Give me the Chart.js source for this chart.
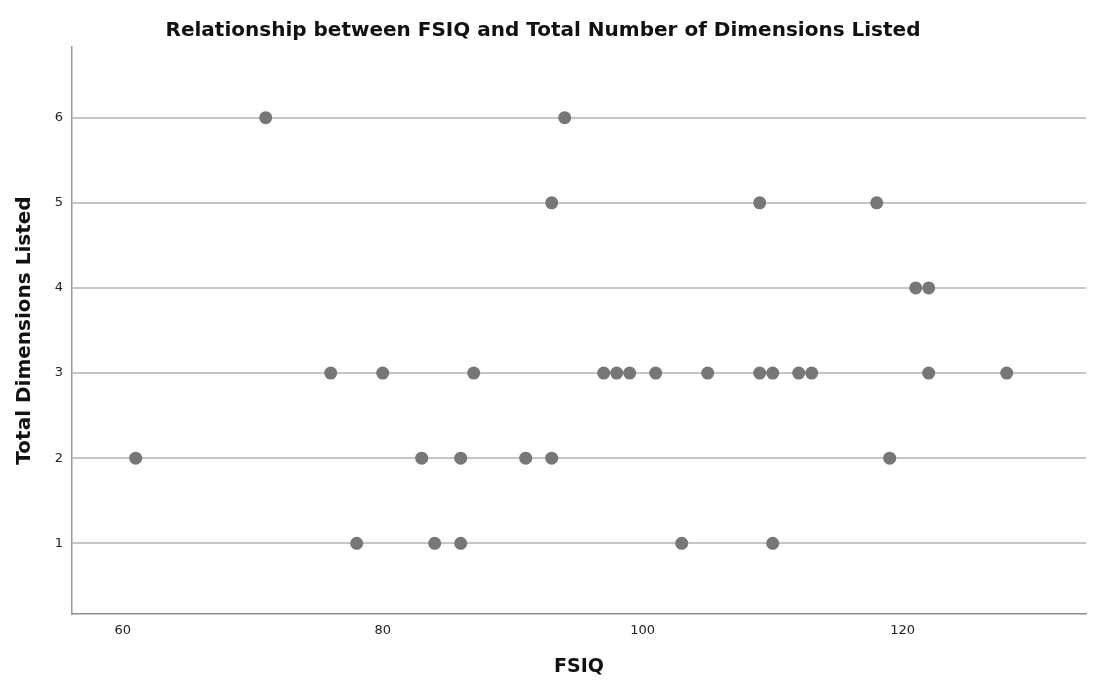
<!DOCTYPE html>
<html>
<head>
<meta charset="utf-8">
<script src="https://cdn.jsdelivr.net/npm/chart.js@4/dist/chart.umd.min.js"></script>
<style>
  html, body { margin: 0; padding: 0; background: #ffffff; }
  #wrap { width: 1094px; height: 687px; }
</style>
</head>
<body>
<div id="wrap"><canvas id="c" width="1094" height="687"></canvas></div>
<script>
// FSIQ scores grouped by the number of dimensions listed
const fsiqDim6 = [71, 94];
const fsiqDim5 = [93, 109, 118];
const fsiqDim4 = [121, 122];
const fsiqDim3 = [76, 80, 87, 97, 98, 99, 101, 105, 109, 110, 112, 113, 122, 128];
const fsiqDim2 = [61, 83, 86, 91, 93, 119];
const fsiqDim1 = [78, 84, 86, 103, 110];

const dimensionGroups = [
  [6, fsiqDim6], [5, fsiqDim5], [4, fsiqDim4],
  [3, fsiqDim3], [2, fsiqDim2], [1, fsiqDim1]
];

const xTickValues = [60, 80, 100, 120];
const yTickValues = [1, 2, 3, 4, 5, 6];

const points = [];
dimensionGroups.forEach(([dims, scores]) => {
  scores.forEach(s => points.push({ x: s, y: dims }));
});

const FONT = "'DejaVu Sans', 'Liberation Sans', sans-serif";

new Chart(document.getElementById('c'), {
  type: 'scatter',
  data: {
    datasets: [{
      data: points,
      backgroundColor: '#777777',
      borderColor: '#777777',
      borderWidth: 0,
      pointRadius: 6.5,
      pointHoverRadius: 6.5
    }]
  },
  options: {
    responsive: false,
    animation: false,
    layout: { padding: { left: 0, right: 8, top: 0, bottom: 0 } },
    plugins: {
      legend: { display: false },
      tooltip: { enabled: false },
      title: {
        display: true,
        text: 'Relationship between FSIQ and Total Number of Dimensions Listed',
        color: '#111111',
        font: { family: FONT, size: 20, weight: 'bold', lineHeight: 1.2 },
        padding: { top: 19, bottom: 4 }
      }
    },
    scales: {
      x: {
        type: 'linear',
        min: 56.1,
        max: 134.1,
        afterBuildTicks: (scale) => { scale.ticks = xTickValues.map(v => ({ value: v })); },
        afterFit: (scale) => { scale.height = 73; },
        grid: { display: false, drawTicks: false },
        border: { display: true, color: '#8c8c8c', width: 1.5 },
        ticks: {
          color: '#222222',
          font: { family: FONT, size: 13 },
          padding: 9,
          maxRotation: 0
        },
        title: {
          display: true,
          text: 'FSIQ',
          color: '#111111',
          font: { family: FONT, size: 19, weight: 'bold', lineHeight: 1.2 },
          padding: { top: 0, bottom: 9 }
        }
      },
      y: {
        type: 'linear',
        min: 0.17,
        max: 6.83,
        afterBuildTicks: (scale) => { scale.ticks = yTickValues.map(v => ({ value: v })); },
        afterFit: (scale) => { scale.width = 72; },
        grid: { display: true, drawTicks: false, color: '#c6c6c6', lineWidth: 2 },
        border: { display: true, color: '#9a9a9a', width: 1.5 },
        ticks: {
          color: '#222222',
          font: { family: FONT, size: 13 },
          padding: 9
        },
        title: {
          display: true,
          text: 'Total Dimensions Listed',
          color: '#111111',
          font: { family: FONT, size: 20, weight: 'bold', lineHeight: 1.2 },
          padding: { top: 13, bottom: 0 }
        }
      }
    }
  }
});
</script>
</body>
</html>
